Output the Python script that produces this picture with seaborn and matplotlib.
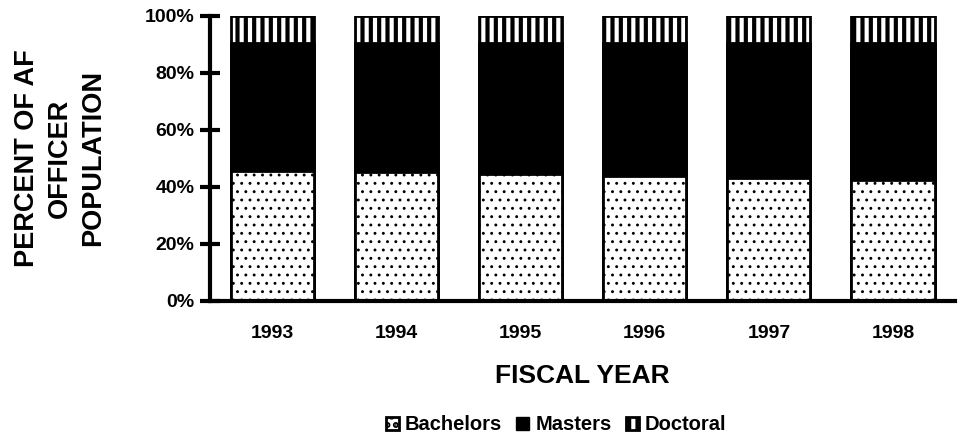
import matplotlib
matplotlib.use("Agg")
import matplotlib.pyplot as plt
import matplotlib.patches as mpatches
import numpy as np
import pandas as pd
import seaborn as sns

sns.set_style("white")
matplotlib.rcParams["font.family"] = ["Liberation Sans", "DejaVu Sans"]
matplotlib.rcParams["font.weight"] = "bold"
for key in ["text.color", "axes.labelcolor", "xtick.color", "ytick.color"]:
    matplotlib.rcParams[key] = "black"

YEARS      = ["1993", "1994", "1995", "1996", "1997", "1998"]
BACHELORS  = [45.6, 45.2, 44.6, 43.9, 43.2, 42.5]
DOCTORAL   = [9.5, 9.5, 9.5, 9.5, 9.5, 9.5]
MASTERS    = [100 - b - d for b, d in zip(BACHELORS, DOCTORAL)]

df = pd.DataFrame({"year": YEARS, "bach": BACHELORS, "mast": MASTERS, "doc": DOCTORAL})
df["top_bm"] = df["bach"] + df["mast"]
df["top_all"] = df["top_bm"] + df["doc"]


def set_hatch_lw(patches, lw):
    for p in patches:
        if hasattr(p, "set_hatch_linewidth"):
            p.set_hatch_linewidth(lw)
        else:
            p._hatch_linewidth = lw


fig = plt.figure(figsize=(9.59, 4.38), dpi=100)
ax = fig.add_axes([0.219, 0.313, 0.777, 0.651])

# overlay cumulative totals: doctoral (full height), then masters, then bachelors
sns.barplot(data=df, x="year", y="top_all", color="white", edgecolor="black",
            linewidth=2, width=0.67, hatch="||", saturation=1, ax=ax)
n0 = len(ax.patches)
set_hatch_lw(ax.patches[:n0], 3.0)
sns.barplot(data=df, x="year", y="top_bm", color="black", edgecolor="black",
            linewidth=2, width=0.67, saturation=1, ax=ax)
n1 = len(ax.patches)
sns.barplot(data=df, x="year", y="bach", color="white", edgecolor="black",
            linewidth=2, width=0.67, hatch="..", saturation=1, ax=ax)
set_hatch_lw(ax.patches[n1:], 0.9)

ax.set_xlim(-0.5, 5.5)
ax.set_ylim(0, 100)
ax.set_yticks([0, 20, 40, 60, 80, 100])
ax.set_yticklabels([f"{v}%" for v in [0, 20, 40, 60, 80, 100]], fontsize=14, fontweight="bold")
ax.set_xticks(range(len(YEARS)))
ax.set_xticklabels(YEARS, fontsize=14, fontweight="bold")
ax.set_xticks(np.arange(0.5, 5.5, 1), minor=True)
ax.tick_params(axis="x", which="major", length=0, pad=17)
ax.tick_params(axis="x", which="minor", direction="inout", length=14, width=3)
ax.tick_params(axis="y", direction="inout", length=14, width=3, left=True, pad=4)

for s in ["top", "right"]:
    ax.spines[s].set_visible(False)
for s in ["left", "bottom"]:
    ax.spines[s].set_linewidth(3)
    ax.spines[s].set_color("black")

ax.set_xlabel("FISCAL YEAR", fontsize=19, fontweight="bold", labelpad=16)
ax.set_ylabel("PERCENT OF AF\nOFFICER\nPOPULATION", fontsize=19.5, fontweight="bold",
              labelpad=28, linespacing=1.36)

handles = [
    mpatches.Patch(facecolor="white", edgecolor="black", linewidth=2, hatch="..", label="Bachelors"),
    mpatches.Patch(facecolor="black", edgecolor="black", label="Masters"),
    mpatches.Patch(facecolor="white", edgecolor="black", linewidth=2, hatch="||", label="Doctoral"),
]
leg = fig.legend(handles=handles, loc="center", bbox_to_anchor=(0.58, 0.03), ncol=3,
                 frameon=False, handlelength=0.65, handleheight=0.65, handletextpad=0.3,
                 columnspacing=0.7, prop={"weight": "bold", "size": 14.5})
set_hatch_lw(leg.get_patches(), 3.0)

fig.savefig("out.png", dpi=100)
